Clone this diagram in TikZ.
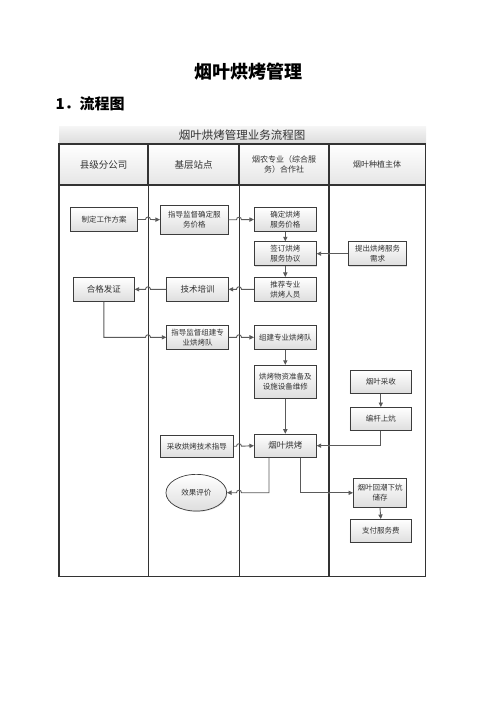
\documentclass[tikz,border=0pt]{standalone}
\usepackage{fontspec}
\setmainfont{Noto Sans CJK SC}
\usetikzlibrary{arrows.meta,calc,shapes.geometric,shadows}
\definecolor{linec}{HTML}{5A5A5A}
\definecolor{boxline}{HTML}{3C3C3C}
\definecolor{txt}{HTML}{333333}
\begin{document}
\begin{tikzpicture}[x=1pt,y=-1pt,
  box/.style={draw=boxline,line width=0.7pt,top color=white,bottom color=black!13,
    drop shadow={shadow xshift=0.8pt,shadow yshift=-0.8pt,opacity=0.25},
    inner sep=0pt,align=center,text=txt,font=\fontsize{7.5}{10}\selectfont},
  ell/.style={box,ellipse},
  conn/.style={draw=linec,line width=0.9pt,-{Triangle[length=4.5pt,width=4.2pt]},rounded corners=0pt},
  hdr/.style={align=center,text=txt},
  jdot/.style={fill=linec}]
\useasboundingbox (0,0) rectangle (496,702);
% titles
\node[font=\fontsize{18}{20}\selectfont\bfseries] (doctitle) at (248,72) {烟叶烘烤管理};
\node[font=\fontsize{15}{18}\selectfont\bfseries,anchor=west] (sect) at (52,104) {1．流程图};
% title band
\shade[top color=black!4,bottom color=black!14] (59,126.5) rectangle (426,144);
\node[font=\fontsize{11.5}{13}\selectfont,text=txt] (charttitle) at (242,135) {烟叶烘烤管理业务流程图};
% header cells
\foreach \a/\b in {59/148,148/239,239/329,329/425.5}{
  \shade[top color=white,bottom color=black!10] (\a,144) rectangle (\b,185);
}
\coordinate (c0) at (59,0);
\coordinate (c1) at (148,0);
\coordinate (c2) at (239,0);
\coordinate (c3) at (329,0);
\coordinate (c4) at (425.5,0);
\draw[line width=1.2pt,draw=black!80] (59,144) rectangle (425.5,185);
\foreach \x in {148,239,329}{\draw[line width=1.2pt,draw=black!80] (\x,144) -- (\x,185);}
\draw[line width=0.8pt,draw=black!80] (148,185) -- (148,576.5);
\draw[line width=0.8pt,draw=black!80] (239,185) -- (239,576.5);
\draw[line width=1.8pt,draw=black!80] (329,185) -- (329,576.5);
\draw[line width=0.8pt,draw=black!80] (425.5,185) -- (425.5,576.5);
\draw[line width=1.6pt,draw=black!80] (59,185) -- (59,576.5);
\draw[line width=1.0pt,draw=black!80] (58.2,576.5) -- (426,576.5);
\node[hdr,font=\fontsize{9.5}{11}\selectfont] (h1) at (103.5,164.5) {县级分公司};
\node[hdr,font=\fontsize{9.5}{11}\selectfont] (h2) at (193.5,164.5) {基层站点};
\node[hdr,font=\fontsize{8}{10}\selectfont] (h3) at (284,164.5) {烟农专业（综合服\\务）合作社};
\node[hdr,font=\fontsize{8}{10}\selectfont] (h4) at (377,164.5) {烟叶种植主体};
% nodes
\node[box,minimum width=66.7pt,minimum height=24pt] (n1) at (104,219.5) {制定工作方案};
\node[box,minimum width=68pt,minimum height=29pt] (n2) at (194.3,219.7) {指导监督确定服\\务价格};
\node[box,minimum width=62pt,minimum height=24pt] (n3) at (285.3,219.5) {确定烘烤\\服务价格};
\node[box,minimum width=62pt,minimum height=24pt] (n4) at (285.3,253.7) {签订烘烤\\服务协议};
\node[box,minimum width=58.3pt,minimum height=24pt] (n5) at (377.5,253.7) {提出烘烤服务\\需求};
\node[box,minimum width=62pt,minimum height=24pt] (n6) at (285.3,289.3) {推荐专业\\烘烤人员};
\node[box,minimum width=61.7pt,minimum height=24pt,font=\fontsize{8.5}{10}\selectfont] (n7) at (197.5,289.3) {技术培训};
\node[box,minimum width=61pt,minimum height=24pt,font=\fontsize{8.5}{10}\selectfont] (n8) at (103.8,289.3) {合格发证};
\node[box,minimum width=61.7pt,minimum height=24pt] (n9) at (197.5,337.3) {指导监督组建专\\业烘烤队};
\node[box,minimum width=62pt,minimum height=24pt] (n10) at (285.3,337.3) {组建专业烘烤队};
\node[box,minimum width=62pt,minimum height=33pt] (n11) at (285.3,381.7) {烘烤物资准备及\\设施设备维修};
\node[box,minimum width=61.7pt,minimum height=22.7pt] (n12) at (380.8,382) {烟叶采收};
\node[box,minimum width=61.7pt,minimum height=23.3pt] (n13) at (380.8,419) {编杆上炕};
\node[box,minimum width=62pt,minimum height=23.3pt,font=\fontsize{8.5}{10}\selectfont] (n14) at (285.3,445.7) {烟叶烘烤};
\node[box,minimum width=73pt,minimum height=22.3pt] (n15) at (196.8,446.2) {采收烘烤技术指导};
\node[ell,minimum width=60.7pt,minimum height=36.7pt] (n16) at (196.3,492.7) {效果评价};
\node[box,minimum width=53.3pt,minimum height=29pt] (n17) at (380,492.8) {烟叶回潮下炕\\储存};
\node[box,minimum width=61.7pt,minimum height=23.3pt] (n18) at (380.8,531) {支付服务费};
% connectors
\draw[conn] (n1.east) -- ($(c1 |- n1.east)+(-2.5,0)$) .. controls +(0,-3.3) and +(0,-3.3) .. ++(5,0) -- (n2.west);
\draw[conn] (n2.east) -- ($(c2 |- n2.east)+(-2.5,0)$) .. controls +(0,-3.3) and +(0,-3.3) .. ++(5,0) -- (n3.west);
\draw[conn] (n3.south) -- (n4.north);
\draw[conn] (n4.south) -- (n6.north);
\draw[conn] (n5.west) -- (n4.east);
\fill[jdot] (c3 |- n5.west) circle (1.2pt);
\draw[conn] (n6.west) -- ($(c2 |- n6.west)+(2.5,0)$) .. controls +(0,-3.3) and +(0,-3.3) .. ++(-5,0) -- (n7.east);
\draw[conn] (n7.west) -- ($(c1 |- n7.west)+(2.5,0)$) .. controls +(0,-3.3) and +(0,-3.3) .. ++(-5,0) -- (n8.east);
\draw[conn] (n8.south) -- (n8.south |- n9.west) -- ($(c1 |- n9.west)+(-2.5,0)$) .. controls +(0,-3.3) and +(0,-3.3) .. ++(5,0) -- (n9.west);
\draw[conn] (n9.east) -- ($(c2 |- n9.east)+(-2.5,0)$) .. controls +(0,-3.3) and +(0,-3.3) .. ++(5,0) -- (n10.west);
\draw[conn] (n10.south) -- (n11.north);
\draw[conn] (n11.south) -- (n14.north);
\draw[conn] (n12.south) -- (n13.north);
\draw[conn] (n13.south) -- (n13.south |- n14.east) -- (n14.east);
\fill[jdot] (c3 |- n14.east) circle (1.2pt);
\draw[conn] (n15.east) -- ($(c2 |- n15.east)+(-2.5,0)$) .. controls +(0,-3.3) and +(0,-3.3) .. ++(5,0) -- (n14.west);
\coordinate (b1) at ([xshift=-16.3pt]n14.south);
\coordinate (b2) at ([xshift=14.7pt]n14.south);
\draw[conn] (b1) -- (b1 |- n16.east) -- ($(c2 |- n16.east)+(2.5,0)$) .. controls +(0,-3.3) and +(0,-3.3) .. ++(-5,0) -- (n16.east);
\draw[conn] (b2) -- (b2 |- n17.west) -- (n17.west);
\fill[jdot] (c3 |- n17.west) circle (1.2pt);
\draw[conn] (n17.south) -- (n18.north);
\end{tikzpicture}
\end{document}
